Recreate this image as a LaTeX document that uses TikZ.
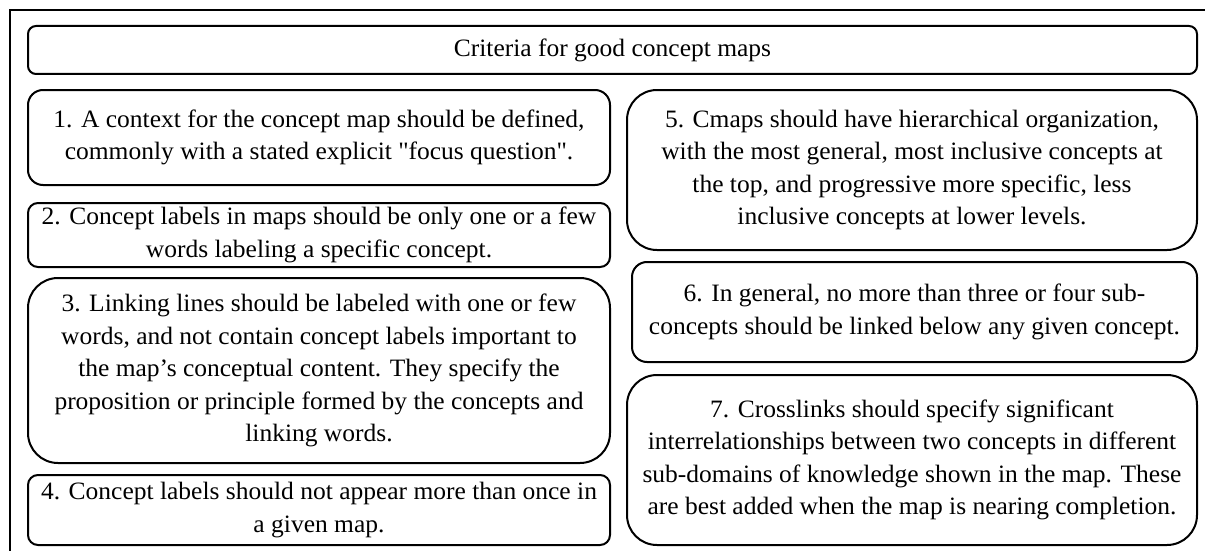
\documentclass[tikz,border=0pt]{standalone}
\usepackage{fontspec}
\setmainfont[FakeStretch=1.02]{Liberation Serif}
\usepackage{tikz}
\usetikzlibrary{calc, positioning}

\begin{document}
\begin{tikzpicture}[x=1pt, y=-1pt, line width=2pt,
		crit/.style={draw, align=center, inner sep=0pt, font=\fontsize{25}{32.5}\selectfont}]
		\useasboundingbox (0,0) rectangle (1205,551);

		\draw (10,551) -- (10,10) -- (1205,10);

		\node[crit, rounded corners=8pt, minimum width=1169pt, minimum height=48pt] (T) at (612.5,50) {Criteria for good concept maps};

		\node[crit, rounded corners=15pt, minimum width=582pt, minimum height=95pt] (R1) at (319,137.5) {1. A context for the concept map should be defined,\\commonly with a stated explicit \textquotedbl focus question\textquotedbl.};
		\node[crit, rounded corners=10pt, minimum width=582pt, minimum height=64pt] (R2) at (319,235) {2. Concept labels in maps should be only one or a few\\words labeling a specific concept.};
		\node[crit, rounded corners=30pt, minimum width=582pt, minimum height=185pt] (R3) at (319,370.5) {3. Linking lines should be labeled with one or few\\words, and not contain concept labels important to\\the map’s conceptual content. They specify the\\proposition or principle formed by the concepts and\\linking words.};
		\node[crit, rounded corners=10pt, minimum width=582pt, minimum height=70pt] (R4) at (319,510) {4. Concept labels should not appear more than once in\\a given map.};

		\node[crit, rounded corners=30pt, minimum width=570pt, minimum height=160pt] (R5) at (912,170) {5. Cmaps should have hierarchical organization,\\with the most general, most inclusive concepts at\\the top, and progressive more specific, less\\inclusive concepts at lower levels.};
		\node[crit, rounded corners=15pt, minimum width=565pt, minimum height=100pt] (R6) at (914.5,312) {6. In general, no more than three or four sub-\\concepts should be linked below any given concept.};
		\node[crit, rounded corners=30pt, minimum width=570pt, minimum height=170pt] (R7) at (912,460) {7. Crosslinks should specify significant\\interrelationships between two concepts in different\\sub-domains of knowledge shown in the map. These\\are best added when the map is nearing completion.};

	\end{tikzpicture}
\end{document}
